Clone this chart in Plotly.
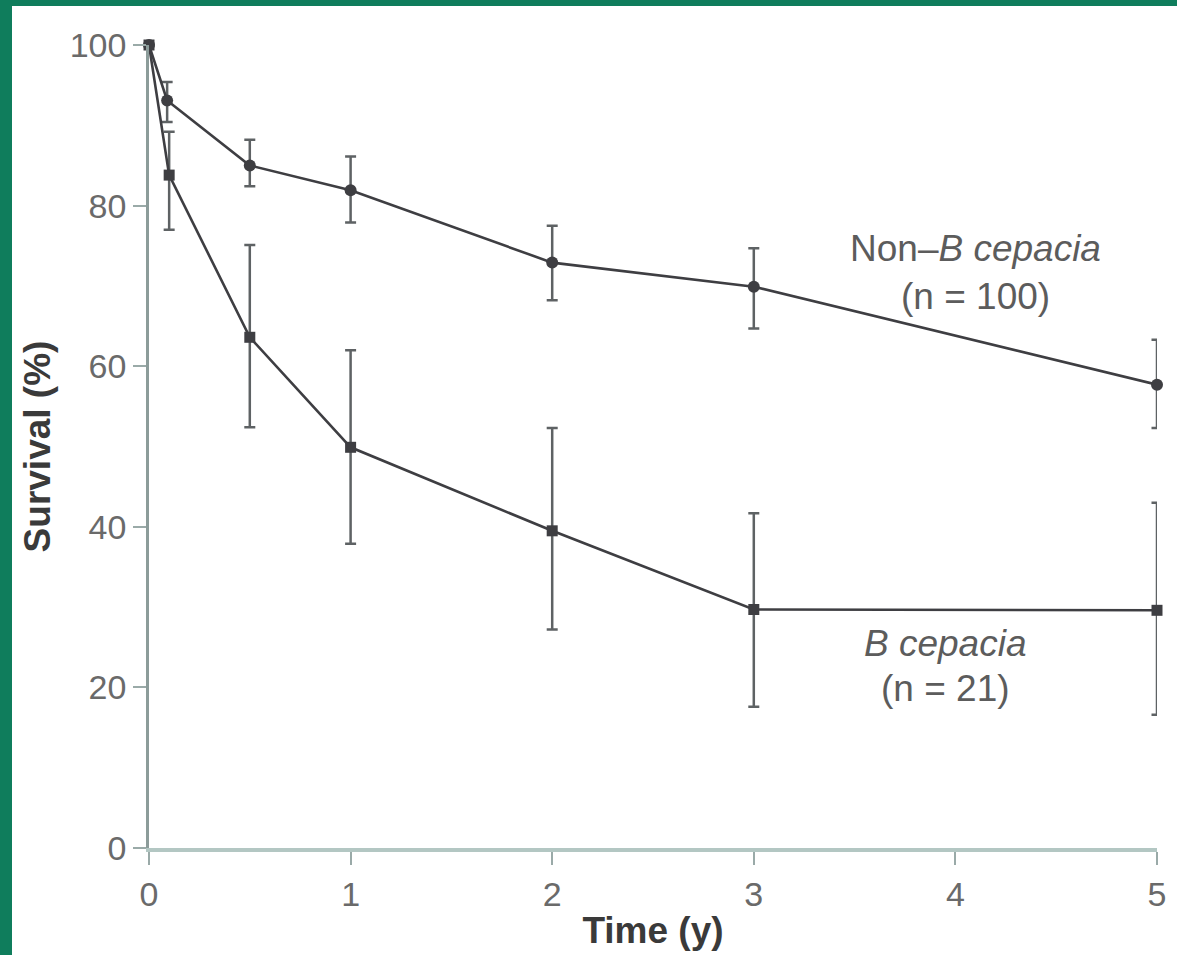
import plotly.graph_objects as go

# ---- data ----
time_nonb = [0, 0.09, 0.5, 1, 2, 3, 5]
surv_nonb = [100, 93.1, 85.0, 81.9, 72.9, 69.9, 57.7]
upper_nonb = [100, 95.4, 88.2, 86.1, 77.5, 74.7, 63.3]
lower_nonb = [100, 90.4, 82.4, 77.9, 68.2, 64.7, 52.3]

time_bc = [0, 0.1, 0.5, 1, 2, 3, 5]
surv_bc = [100, 83.8, 63.6, 49.9, 39.5, 29.7, 29.6]
upper_bc = [100, 89.2, 75.1, 62.0, 52.3, 41.7, 43.0]
lower_bc = [100, 77.0, 52.4, 37.9, 27.2, 17.6, 16.6]

x_ticks = [0, 1, 2, 3, 4, 5]
y_ticks = [0, 20, 40, 60, 80, 100]

# ---- style ----
W, H = 1177, 955
ML, MR, MT, MB = 149, 20, 45, 107
PW, PH = W - ML - MR, H - MT - MB
GREEN = "#0f7d5c"
DARK = "#3e3e42"
ERR = "#5e6264"
TXT = "#6a6a6a"
FONT = "Liberation Sans, Arial, sans-serif"


def err(center, up, lo):
    return dict(type="data", symmetric=False,
                array=[u - c for u, c in zip(up, center)],
                arrayminus=[c - l for l, c in zip(lo, center)],
                color=ERR, thickness=2.5, width=5.5)


fig = go.Figure()
fig.add_trace(go.Scatter(
    x=time_nonb, y=surv_nonb, mode="lines+markers", name="Non-B cepacia",
    line=dict(color=DARK, width=2.6),
    marker=dict(symbol="circle", size=12, color=DARK),
    error_y=err(surv_nonb, upper_nonb, lower_nonb),
    cliponaxis=False, showlegend=False))
fig.add_trace(go.Scatter(
    x=time_bc, y=surv_bc, mode="lines+markers", name="B cepacia",
    line=dict(color=DARK, width=2.6),
    marker=dict(symbol="square", size=11, color=DARK),
    error_y=err(surv_bc, upper_bc, lower_bc),
    cliponaxis=False, showlegend=False))

ann_font = dict(family=FONT, size=37, color="#5c5c5c")
fig.add_annotation(x=4.1, y=74.7, text="Non\u2013<i>B cepacia</i>", showarrow=False,
                   font=ann_font, xanchor="center", yanchor="middle")
fig.add_annotation(x=4.1, y=68.7, text="(n = 100)", showarrow=False,
                   font=ann_font, xanchor="center", yanchor="middle")
fig.add_annotation(x=3.95, y=25.5, text="<i>B cepacia</i>", showarrow=False,
                   font=ann_font, xanchor="center", yanchor="middle")
fig.add_annotation(x=3.95, y=19.9, text="(n = 21)", showarrow=False,
                   font=ann_font, xanchor="center", yanchor="middle")

# green frame (top and left)
fig.add_shape(type="rect", xref="paper", yref="paper",
              x0=-ML / PW, x1=(-ML + 12) / PW, y0=-MB / PH, y1=1 + MT / PH,
              fillcolor=GREEN, line_width=0, layer="above")
fig.add_shape(type="rect", xref="paper", yref="paper",
              x0=-ML / PW, x1=(W - ML) / PW, y0=1 + (MT - 6) / PH, y1=1 + MT / PH,
              fillcolor=GREEN, line_width=0, layer="above")

fig.update_xaxes(range=[0, 5], tickvals=x_ticks, ticktext=[str(v) for v in x_ticks],
                 showgrid=False, zeroline=False,
                 showline=True, linecolor="#b3c7c3", linewidth=4,
                 ticks="outside", ticklen=13, tickwidth=2, tickcolor="#9aaaa8",
                 tickfont=dict(family=FONT, size=34, color=TXT),
                 title=dict(text="<b>Time (y)</b>", standoff=6,
                            font=dict(family=FONT, size=37, color="#3a3a3a")))
fig.update_yaxes(range=[0, 100], tickvals=y_ticks, ticktext=[str(v) for v in y_ticks],
                 showgrid=False, zeroline=False,
                 showline=True, linecolor="#8c9c9a", linewidth=2.5,
                 ticks="outside", ticklen=13, tickwidth=2, tickcolor="#9aaaa8",
                 tickfont=dict(family=FONT, size=34, color=TXT),
                 title=dict(text="<b>Survival (%)</b>", standoff=8,
                            font=dict(family=FONT, size=37, color="#3a3a3a")))

fig.update_layout(width=W, height=H, margin=dict(l=ML, r=MR, t=MT, b=MB, autoexpand=False),
                  paper_bgcolor="white", plot_bgcolor="white")

fig.write_html("out.html", config={"displayModeBar": False},
               post_script="document.body.style.margin='0';document.body.style.overflow='hidden';")
